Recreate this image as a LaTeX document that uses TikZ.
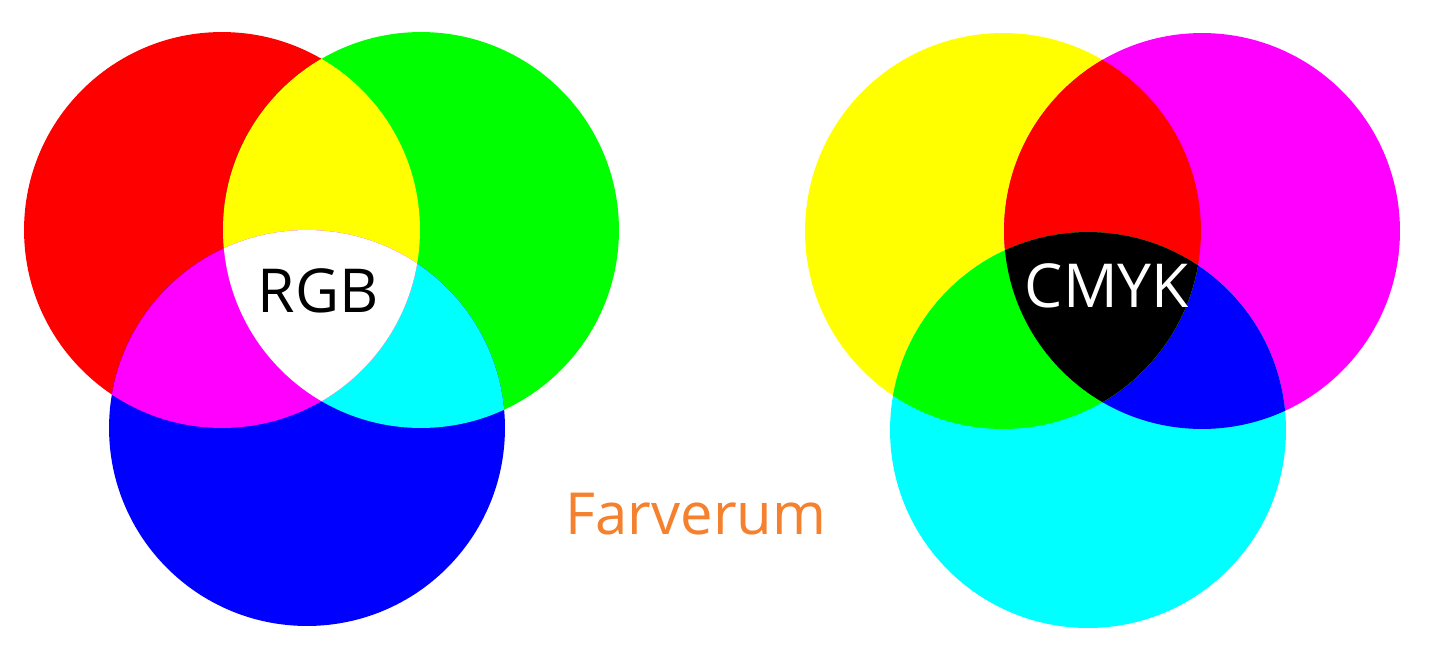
\documentclass[tikz,border=0pt]{standalone}
\usepackage{fontspec}
\setmainfont{Open Sans}
\definecolor{cR}{RGB}{255,0,0}
\definecolor{cG}{RGB}{0,255,0}
\definecolor{cB}{RGB}{0,0,255}
\definecolor{cC}{RGB}{0,255,255}
\definecolor{cM}{RGB}{255,0,255}
\definecolor{cY}{RGB}{255,255,0}
\definecolor{cK}{RGB}{0,0,0}
\definecolor{cW}{RGB}{255,255,255}
\definecolor{farve}{RGB}{245,128,45}

\begin{document}
\begin{tikzpicture}[
    x=0.02cm, y=-0.02cm,
    title/.style={font=\fontsize{34.5}{35}\selectfont, inner sep=0pt},
    note/.style={font=\fontsize{33}{33}\selectfont, inner sep=0pt, text=farve}
]
    \fill[cW] (0,0) rectangle (1432,656);
    \useasboundingbox (0,0) rectangle (1432,656);

    % RGB (additive)
    \coordinate (red) at (222,230);
    \coordinate (grn) at (421,230);
    \coordinate (blu) at (307,428);
    \fill[cR] (red) circle (3.96cm);
    \fill[cG] (grn) circle (3.96cm);
    \fill[cB] (blu) circle (3.96cm);
    \begin{scope}
        \clip (grn) circle (3.96cm);
        \fill[cC] (blu) circle (3.96cm);
    \end{scope}
    \begin{scope}
        \clip (red) circle (3.96cm);
        \fill[cY] (grn) circle (3.96cm);
        \fill[cM] (blu) circle (3.96cm);
        \clip (grn) circle (3.96cm);
        \fill[cW] (blu) circle (3.96cm);
    \end{scope}
    \node[title, text=cK] (rgb) at (318,291) {RGB};

    % CMYK (subtractive)
    \coordinate (yel) at (1003,231);
    \coordinate (mag) at (1202,231);
    \coordinate (cya) at (1088,430);
    \fill[cY] (yel) circle (3.96cm);
    \fill[cM] (mag) circle (3.96cm);
    \fill[cC] (cya) circle (3.96cm);
    \begin{scope}
        \clip (mag) circle (3.96cm);
        \fill[cB] (cya) circle (3.96cm);
    \end{scope}
    \begin{scope}
        \clip (yel) circle (3.96cm);
        \fill[cR] (mag) circle (3.96cm);
        \fill[cG] (cya) circle (3.96cm);
        \clip (mag) circle (3.96cm);
        \fill[cK] (cya) circle (3.96cm);
    \end{scope}
    \node[title, text=cW] (cmyk) at (1107,286) {CMYK};

    \node[note] (farverum) at (696,514) {Farverum};
\end{tikzpicture}
\end{document}
